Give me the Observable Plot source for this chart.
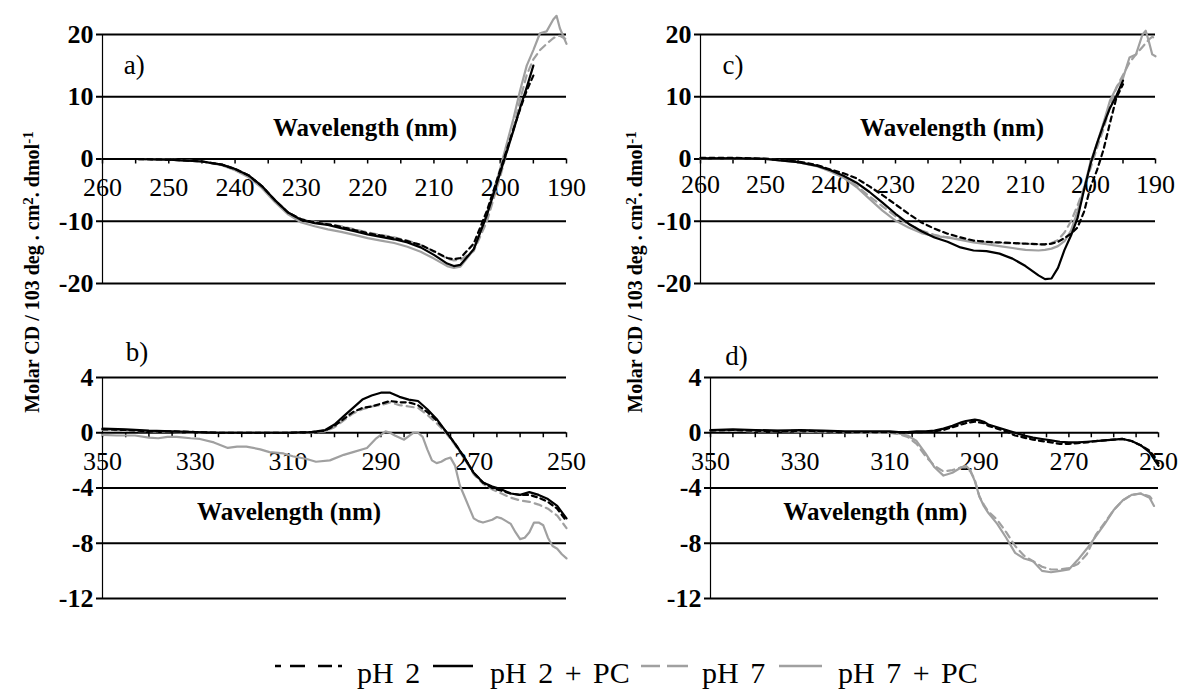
<!DOCTYPE html>
<html><head><meta charset="utf-8">
<script src="https://cdn.jsdelivr.net/npm/d3@7"></script>
<script src="https://cdn.jsdelivr.net/npm/@observablehq/plot@0.6"></script>
<style>
body{margin:0;font-family:serif;}
#fig, #fig *{font-family:'Times New Roman','Liberation Serif',Tinos,serif !important;}
</style></head>
<body>
<div id="fig" style="position:relative;width:1191px;height:693px;"></div>
<script>
// ---------- labels ----------
const seriesNames = ["pH 2", "pH 2 + PC", "pH 7", "pH 7 + PC"];
const panelLabels = ["a)", "b)", "c)", "d)"];
const xLabel = "Wavelength (nm)";

// ---------- far-UV ticks (panels a, c) ----------
const farTicksY = [-20, -10, 0, 10, 20];
const farTicksXLabel = [260, 250, 240, 230, 220, 210, 200, 190];
const farTicksXMinor = [260,255,250,245,240,235,230,225,220,215,210,205,200,195,190];
// ---------- near-UV ticks (panels b, d) ----------
const nearTicksY = [-12, -8, -4, 0, 4];
const nearTicksXLabel = [350, 330, 310, 290, 270, 250];
const nearTicksXMinor = [350,345,340,335,330,325,320,315,310,305,300,295,290,285,280,275,270,265,260,255,250];

// ---------- panel a ----------
const aWl = [260,255,250,245,242,240,238,236,234,232,230,228,226,224,222,220,218,216,214,212,210,208,207,206,204,202,200,198,197,196,195,194,193,192,191.5,191,190];
const a_pH2   = [0,0,-0.1,-0.4,-0.9,-1.6,-2.6,-4.3,-6.6,-8.6,-9.7,-10.2,-10.5,-10.9,-11.4,-11.9,-12.3,-12.7,-13.2,-13.8,-14.8,-15.9,-16.1,-15.9,-13.6,-8.3,-1.8,4.8,8.0,11.0,13.4,null,null,null,null,null,null];
const a_pH2PC = [0,0,-0.1,-0.4,-0.9,-1.6,-2.6,-4.3,-6.6,-8.6,-9.8,-10.3,-10.6,-11.1,-11.6,-12.1,-12.5,-12.9,-13.4,-14.2,-15.4,-16.8,-17.2,-17.0,-14.5,-9.0,-2.2,4.6,8.2,11.5,15.0,null,null,null,null,null,null];
const a_pH7   = [0,0,-0.1,-0.4,-0.9,-1.6,-2.6,-4.3,-6.6,-8.6,-9.7,-10.1,-10.4,-10.8,-11.3,-11.8,-12.2,-12.6,-13.1,-13.8,-14.9,-16.0,-16.3,-16.2,-14.8,-10.0,-2.8,5.0,9.5,13.5,16.0,17.5,18.5,19.4,19.7,19.8,19.2];
const a_pH7PC = [0,0,-0.1,-0.4,-1.0,-1.8,-2.9,-4.6,-6.9,-8.9,-10.2,-10.8,-11.3,-11.7,-12.2,-12.7,-13.1,-13.5,-14.1,-14.9,-16.0,-17.2,-17.5,-17.3,-14.6,-8.8,-1.5,6.5,11.0,15.0,17.5,20.2,20.5,22.4,23.0,21.0,18.5];

// ---------- panel b ----------
const bWl = [350,345,340,335,330,325,320,315,310,305,302,300,298,296,294,292,290,288,286,284,282,280,278,276,274,272,270,268,266,264,262,260,258,256,254,252,250];
const b_pH2   = [0.25,0.2,0.1,0.1,0.05,0,0,0,0,0.05,0.15,0.5,1.0,1.5,1.8,1.9,2.1,2.3,2.2,2.2,2.0,1.5,0.9,0.1,-0.8,-1.8,-2.9,-3.6,-4.0,-4.2,-4.4,-4.5,-4.5,-4.7,-5.0,-5.5,-6.4];
const b_pH2PC = [0.3,0.25,0.15,0.1,0.05,0,0,0,0,0.05,0.2,0.6,1.2,1.8,2.4,2.7,2.9,2.9,2.6,2.4,2.3,1.7,1.0,0.1,-0.8,-1.8,-2.9,-3.6,-3.9,-4.1,-4.4,-4.5,-4.3,-4.5,-4.8,-5.3,-6.2];
const b_pH7   = [0.2,0.15,0.1,0.05,0,0,0,0,0,0,0.1,0.4,0.9,1.4,1.7,1.9,2.0,2.2,2.0,1.9,1.8,1.3,0.7,0,-0.9,-1.9,-3.0,-3.7,-4.1,-4.4,-4.7,-4.9,-5.0,-5.2,-5.5,-6.0,-6.9];
const bWl7PC  = [350,347,343,340,338,336,334,331,329,326,323,321,319,316,314,311,309,306,304,301,298,296,293,291,289,288,287,285,283,282,281,280,279,278,277,276,275,274,273,272,271,270,269,268,266,265,264,263,262,261,260,259,258,257,256,255,254,253,252,251,250];
const b_pH7PC = [-0.15,-0.2,-0.2,-0.35,-0.4,-0.3,-0.3,-0.4,-0.45,-0.7,-1.1,-1.0,-1.0,-1.2,-1.4,-1.5,-1.7,-1.9,-2.1,-2.0,-1.6,-1.4,-1.1,-0.4,0.1,0,-0.2,-0.5,0,0,-0.3,-1.2,-2.0,-2.2,-2.1,-1.9,-1.8,-2.4,-3.8,-4.6,-5.4,-6.2,-6.4,-6.5,-6.3,-6.1,-6.2,-6.4,-6.6,-7.2,-7.7,-7.6,-7.2,-6.5,-6.5,-6.7,-7.6,-8.2,-8.4,-8.8,-9.1];

// ---------- panel c ----------
const cWl = [260,255,250,245,242,240,238,236,234,232,230,228,226,224,222,220,218,216,214,212,210,208,207,206,205,204,203,202,201,200,199,198,197,196,195,194,193,192,191.5,191,190.5,190];
const c_pH2   = [0.2,0.2,0.05,-0.4,-1.0,-1.7,-2.3,-3.1,-4.4,-5.8,-7.3,-8.8,-10.2,-11.2,-12.0,-12.6,-13.1,-13.3,-13.4,-13.5,-13.6,-13.7,-13.7,-13.6,-13.3,-12.7,-12.0,-11.0,-8.5,-4.5,-1.8,1.5,5.8,9.9,12.0,null,null,null,null,null,null,null];
const c_pH2PC = [0.1,0.1,0,-0.5,-1.1,-1.8,-2.7,-3.8,-5.3,-7.0,-8.8,-10.4,-11.6,-12.6,-13.3,-14.2,-14.7,-14.8,-15.2,-16.0,-17.2,-18.7,-19.3,-19.2,-17.5,-14.6,-12.3,-9.5,-5.0,-0.8,2.5,5.5,8.2,10.2,12.6,null,null,null,null,null,null,null];
const c_pH7   = [0.1,0.1,0,-0.5,-1.1,-1.8,-2.9,-4.3,-6.0,-7.6,-9.2,-10.5,-11.5,-12.2,-12.6,-12.9,-13.2,-13.4,-13.5,-13.5,-13.6,-13.7,-13.7,-13.5,-13.0,-11.8,-10.0,-7.5,-4.6,-1.5,1.8,4.8,8.5,11.5,13.5,15.5,16.8,18.0,18.6,19.2,19.6,19.4];
const c_pH7PC = [0.1,0.1,0,-0.5,-1.2,-2.0,-3.0,-4.5,-6.4,-8.3,-9.9,-11.0,-11.9,-12.4,-12.6,-13.0,-13.4,-13.7,-14.0,-14.3,-14.6,-14.7,-14.6,-14.4,-14.0,-13.2,-11.5,-8.4,-4.7,-0.5,2.5,5.8,9.4,11.5,13.0,16.3,16.8,20.0,20.6,18.8,16.8,16.5];

// ---------- panel d ----------
const dWl = [350,345,340,335,330,325,320,315,312,310,308,306,304,302,300,298,296,294,293,292,291,290,289,288,286,284,282,280,278,276,274,272,270,268,266,264,262,260,258,256,254,252,251,250];
const d_pH2   = [0.15,0.2,0.15,0.1,0.15,0.1,0.05,0.05,0.05,0.05,0,0,0.05,0.05,0.1,0.2,0.4,0.6,0.7,0.75,0.8,0.75,0.7,0.5,0.3,0.1,-0.2,-0.35,-0.5,-0.6,-0.7,-0.8,-0.8,-0.75,-0.7,-0.6,-0.55,-0.5,-0.45,-0.6,-0.9,-1.3,-1.7,-2.2];
const d_pH2PC = [0.2,0.25,0.2,0.15,0.2,0.15,0.1,0.1,0.1,0.1,0.05,0.05,0.1,0.1,0.15,0.3,0.5,0.75,0.85,0.9,0.95,0.9,0.8,0.6,0.4,0.2,0,-0.2,-0.35,-0.45,-0.55,-0.65,-0.7,-0.7,-0.65,-0.6,-0.55,-0.5,-0.45,-0.6,-0.9,-1.4,-1.9,-2.4];
const d_pH7   = [0.15,0.15,0.1,0.1,0.1,0.05,0.05,0,0,0,-0.1,-0.3,-0.8,-1.7,-2.4,-2.8,-2.7,-2.5,-2.5,-2.8,-3.4,-4.6,-5.2,-5.7,-6.3,-7.2,-8.2,-8.9,-9.3,-9.7,-9.9,-9.9,-9.8,-9.5,-8.8,-7.4,-6.5,-5.6,-4.9,-4.5,-4.4,-4.6,-5.0,null];
const d_pH7PC = [0.2,0.2,0.15,0.15,0.1,0.1,0.05,0,0,0,-0.05,-0.2,-0.6,-1.5,-2.5,-3.1,-2.9,-2.5,-2.4,-2.7,-3.5,-4.6,-5.3,-5.8,-6.6,-7.6,-8.7,-9.1,-9.3,-10.0,-10.1,-10.0,-9.9,-9.2,-8.4,-7.5,-6.6,-5.6,-4.9,-4.5,-4.4,-4.7,-5.3,null];

// ---------- styles ----------
const FONT = "serif";
const seriesStyle = {
  "pH 2":      {stroke: "#000000", dash: "5,4"},
  "pH 2 + PC": {stroke: "#000000", dash: null},
  "pH 7":      {stroke: "#a0a0a0", dash: "7,5"},
  "pH 7 + PC": {stroke: "#a0a0a0", dash: null}
};
const drawOrder = ["pH 7 + PC", "pH 7", "pH 2 + PC", "pH 2"];

function toRows(wl, vals) {
  return wl.map((w, i) => ({wl: w, v: vals[i]})).filter(d => d.v != null);
}

function makePanel(cfg) {
  const innerH = cfg.height - cfg.mt - cfg.mb;
  const zeroOffset = (0 - cfg.yDomain[0]) / (cfg.yDomain[1] - cfg.yDomain[0]) * innerH;
  const lineMarks = drawOrder.map(name => {
    const st = seriesStyle[name];
    return Plot.line(cfg.series[name], {
      x: "wl", y: "v", stroke: st.stroke, strokeWidth: 2.2,
      strokeDasharray: st.dash || undefined, curve: "linear"
    });
  });
  const svg = Plot.plot({
    width: cfg.width, height: cfg.height,
    marginLeft: cfg.ml, marginRight: cfg.mr, marginTop: cfg.mt, marginBottom: cfg.mb,
    x: {domain: cfg.xDomain},
    y: {domain: cfg.yDomain},
    style: {fontFamily: FONT, color: "black", background: "transparent", overflow: "visible"},
    marks: [
      Plot.ruleY(cfg.yTicks, {stroke: "black", strokeWidth: 2}),
      Plot.ruleX([cfg.xDomain[0]], {stroke: "black", strokeWidth: 1.2}),
      Plot.axisY({ticks: cfg.yTicks, tickSize: 6, tickPadding: 3, fontSize: 26, fontWeight: "bold", fontFamily: FONT, strokeWidth: 2, label: null, tickFormat: d => String(d)}),
      Plot.axisX({anchor: "bottom", ticks: cfg.xMinor, tickSize: 5, tickFormat: () => "", dy: -zeroOffset, strokeWidth: 1.5, label: null}),
      Plot.axisX({anchor: "bottom", ticks: cfg.xLabels, tickSize: 0, tickPadding: cfg.xPad, fontSize: 26, fontFamily: FONT, dy: -zeroOffset, label: null, tickFormat: d => String(d)}),
      Plot.text([xLabel], {x: cfg.wlPos[0], y: cfg.wlPos[1], fontSize: 25, fontWeight: "bold", fontFamily: FONT, textAnchor: "middle", fill: "black"}),
      Plot.text([cfg.label], {x: cfg.labelPos[0], y: cfg.labelPos[1], fontSize: 27, fontFamily: FONT, textAnchor: "start", fill: "black"}),
      ...lineMarks
    ]
  });
  svg.setAttribute("font-family", FONT);
  const div = document.createElement("div");
  div.style.position = "absolute";
  div.style.left = cfg.left + "px";
  div.style.top = cfg.top + "px";
  div.appendChild(svg);
  return div;
}

const fig = document.getElementById("fig");

fig.appendChild(makePanel({
  left: 0, top: 0, width: 600, height: 300, ml: 102, mr: 34, mt: 34, mb: 17,
  xDomain: [260, 190], yDomain: [-20, 20], yTicks: farTicksY,
  xLabels: farTicksXLabel, xMinor: farTicksXMinor, xPad: 19,
  wlPos: [220.4, 5], label: panelLabels[0], labelPos: [256.8, 15],
  series: {"pH 2": toRows(aWl, a_pH2), "pH 2 + PC": toRows(aWl, a_pH2PC), "pH 7": toRows(aWl, a_pH7), "pH 7 + PC": toRows(aWl, a_pH7PC)}
}));
fig.appendChild(makePanel({
  left: 0, top: 300, width: 600, height: 310, ml: 102, mr: 34, mt: 77, mb: 12,
  xDomain: [350, 250], yDomain: [-12, 4], yTicks: nearTicksY,
  xLabels: nearTicksXLabel, xMinor: nearTicksXMinor, xPad: 19,
  wlPos: [309.8, -5.75], label: panelLabels[1], labelPos: [345, 5.8],
  series: {"pH 2": toRows(bWl, b_pH2), "pH 2 + PC": toRows(bWl, b_pH2PC), "pH 7": toRows(bWl, b_pH7), "pH 7 + PC": toRows(bWl7PC, b_pH7PC)}
}));
fig.appendChild(makePanel({
  left: 600, top: 0, width: 591, height: 300, ml: 100, mr: 36, mt: 34, mb: 17,
  xDomain: [260, 190], yDomain: [-20, 20], yTicks: farTicksY,
  xLabels: farTicksXLabel, xMinor: farTicksXMinor, xPad: 16,
  wlPos: [221.3, 5], label: panelLabels[2], labelPos: [256.6, 15],
  series: {"pH 2": toRows(cWl, c_pH2), "pH 2 + PC": toRows(cWl, c_pH2PC), "pH 7": toRows(cWl, c_pH7), "pH 7 + PC": toRows(cWl, c_pH7PC)}
}));
fig.appendChild(makePanel({
  left: 600, top: 300, width: 591, height: 310, ml: 110, mr: 33, mt: 77, mb: 12,
  xDomain: [350, 250], yDomain: [-12, 4], yTicks: nearTicksY,
  xLabels: nearTicksXLabel, xMinor: nearTicksXMinor, xPad: 19,
  wlPos: [313.2, -5.75], label: panelLabels[3], labelPos: [346.7, 5.5],
  series: {"pH 2": toRows(dWl, d_pH2), "pH 2 + PC": toRows(dWl, d_pH2PC), "pH 7": toRows(dWl, d_pH7), "pH 7 + PC": toRows(dWl, d_pH7PC)}
}));

// ---------- y-axis titles ----------
function yTitle(cx, cy) {
  const t = document.createElement("div");
  t.style.cssText = "position:absolute;font-weight:bold;font-size:20px;white-space:nowrap;line-height:1;transform:translate(-50%,-50%) rotate(-90deg);";
  t.style.left = cx + "px";
  t.style.top = cy + "px";
  t.innerHTML = "Molar CD / 103 deg . cm<sup style='font-size:15px;vertical-align:6px'>2</sup>. dmol<sup style='font-size:15px;vertical-align:6px'>-1</sup>";
  fig.appendChild(t);
}
yTitle(31, 272);
yTitle(634, 272);

// ---------- legend ----------
const ns = "http://www.w3.org/2000/svg";
const leg = document.createElementNS(ns, "svg");
leg.setAttribute("width", 1191);
leg.setAttribute("height", 83);
leg.setAttribute("font-family", FONT);
leg.style.position = "absolute"; leg.style.left = "0px"; leg.style.top = "610px";
const legendItems = [
  {name: seriesNames[0], x1: 275, x2: 342, tx: 357, dash: "6,9,15,13,14,6,4,40"},
  {name: seriesNames[1], x1: 433, x2: 473, tx: 490, dash: null},
  {name: seriesNames[2], x1: 641, x2: 688, tx: 702, dash: "19,7,21,40"},
  {name: seriesNames[3], x1: 779, x2: 822, tx: 838, dash: null}
];
legendItems.forEach(it => {
  const st = seriesStyle[it.name];
  const ln = document.createElementNS(ns, "line");
  ln.setAttribute("x1", it.x1); ln.setAttribute("x2", it.x2);
  ln.setAttribute("y1", 56); ln.setAttribute("y2", 56);
  ln.setAttribute("stroke", st.stroke); ln.setAttribute("stroke-width", 2.6);
  if (it.dash) ln.setAttribute("stroke-dasharray", it.dash);
  leg.appendChild(ln);
  const tx = document.createElementNS(ns, "text");
  tx.setAttribute("x", it.tx); tx.setAttribute("y", 73);
  tx.setAttribute("font-size", 30);
  tx.setAttribute("word-spacing", "4");
  tx.textContent = it.name;
  leg.appendChild(tx);
});
fig.appendChild(leg);
</script></body></html>
